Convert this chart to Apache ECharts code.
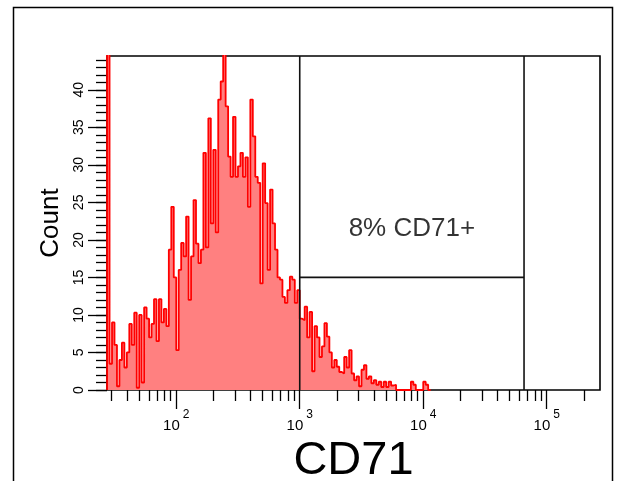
<!DOCTYPE html>
<html><head><meta charset="utf-8">
<script src="https://cdn.jsdelivr.net/npm/echarts@6/dist/echarts.min.js"></script>
<style>html,body{margin:0;padding:0;background:#fff}#c{width:617px;height:481px}</style>
</head><body><div id="c"></div>
<script>
// Histogram binning (log10 channel units)
const binStartLog = 1.44;
const binWidthLog = 0.02;
// Counts per bin (first bin is off-scale)
const counts = [
 60, 3.5, 9, 6, 0.5, 4, 6.3, 3, 5, 8.8,
 6, 10.3, 0.3, 10, 1, 11, 9.5, 7, 8.8, 12.1,
 6.5, 12.1, 9, 10.8, 8.5, 18.7, 24.4, 15, 5.3, 16,
 19.6, 17.8, 23.1, 12, 17.8, 25.3, 19.5, 16.9, 18.7, 31.6,
 19, 36.2, 22.2, 32, 21, 38.7, 41.1, 45, 37.8, 31.1,
 28.4, 36.4, 28.4, 29.8, 31.6, 28.4, 31, 24.4, 38.7, 33.8,
 28.4, 27.6, 14.2, 30.2, 24.9, 16, 26.7, 22.2, 18.7, 15,
 14.7, 12.4, 11.6, 13.3, 15.1, 14.7, 11.6, 13.3, 9.5, 9.3,
 11.1, 7, 10.4, 2.5, 8.5, 7, 4.4, 5.8, 8.9, 7.1,
 5, 3, 4, 3.1, 2.4, 2.2, 4.4, 3, 5.3, 2.2,
 1.3, 1.8, 0.5, 2.7, 3.3, 1.5, 1.8, 0.9, 1.3, 0.7,
 1.1, 0.4, 1.1, 0.4, 1.1, 0.6, 0.7, 0, 0, 0,
 0, 0, 0, 1.1, 0.7, 0, 0, 0, 1.1, 0.7,
 0
];
// Axis ranges
const xMinRaw = 27.5;
const xMaxRaw = 270000;
const yMax = 44.5;
// Tick values
const xMajorTicks = [100, 1000, 10000, 100000];
const xMinorTicks = [30,40,50,60,70,80,90,
  200,300,400,500,600,700,800,900,
  2000,3000,4000,5000,6000,7000,8000,9000,
  20000,30000,40000,50000,60000,70000,80000,90000,200000];
const yMajorTicks = [0,5,10,15,20,25,30,35,40];
const yMinorTicks = [0,1,2,3,4,5,6,7,8,9,10,11,12,13,14,15,16,17,18,19,20,21,22,23,24,25,26,27,28,29,30,31,32,33,34,35,36,37,38,39,40,41,42,43,44];
// Gate
const gateLow = 1000;
const gateHigh = 65500;
const gateLevel = 15;
const gateLabel = '8% CD71+';
const gateLabelLevel = 21.5;
const xTitle = 'CD71';
const yTitle = 'Count';

const F = '"Liberation Sans", Arial, sans-serif';
const L = Math.log10;

const histData = [[binStartLog, 0]];
counts.forEach((c, i) => histData.push([binStartLog + i * binWidthLog, c]));
histData.push([binStartLog + counts.length * binWidthLog, 0]);

const tickStyle = {color: '#000', width: 1.3};
const gateStyle = {color: '#111', width: 1.6};

const chart = echarts.init(document.getElementById('c'), null, {renderer: 'canvas'});
chart.setOption({
  animation: false,
  backgroundColor: '#fff',
  graphic: [{type: 'rect', shape: {x: 13.5, y: 7.5, width: 599, height: 520}, style: {fill: 'none', stroke: '#000', lineWidth: 1.5}, z: -1}],
  grid: {left: 107, top: 56, right: 17, bottom: 91, show: true, borderColor: '#000', borderWidth: 1.6, backgroundColor: 'transparent', containLabel: false, outerBoundsMode: 'none'},
  xAxis: [{
    type: 'value', min: L(xMinRaw), max: L(xMaxRaw), position: 'bottom',
    axisLine: {show: false}, splitLine: {show: false},
    axisTick: {show: true, customValues: xMajorTicks.map(L), length: 19, lineStyle: tickStyle},
    axisLabel: {
      customValues: xMajorTicks.map(L), margin: 19,
      formatter: v => '{b|10}{s|' + Math.round(v) + '}',
      rich: {
        b: {fontSize: 15, fontFamily: F, color: '#000', verticalAlign: 'bottom', lineHeight: 24},
        s: {fontSize: 12, fontFamily: F, color: '#000', verticalAlign: 'top', lineHeight: 12, padding: [0, 0, 0, 3]}
      }
    },
    name: xTitle, nameLocation: 'middle', nameGap: 36,
    nameTextStyle: {fontSize: 47, fontFamily: F, color: '#000'}
  }, {
    type: 'value', min: L(xMinRaw), max: L(xMaxRaw), position: 'bottom',
    axisLine: {show: false}, splitLine: {show: false},
    axisTick: {show: true, customValues: xMinorTicks.map(L), length: 11, lineStyle: tickStyle},
    axisLabel: {show: false}
  }],
  yAxis: [{
    type: 'value', min: 0, max: yMax, position: 'left',
    axisLine: {show: false}, splitLine: {show: false},
    axisTick: {show: true, customValues: yMajorTicks, length: 19, lineStyle: tickStyle},
    axisLabel: {customValues: yMajorTicks, rotate: 90, margin: 21, fontSize: 14, fontFamily: F, color: '#000'},
    name: yTitle, nameLocation: 'middle', nameGap: 39, nameRotate: 90,
    nameTextStyle: {fontSize: 26, fontFamily: F, color: '#000'}
  }, {
    type: 'value', min: 0, max: yMax, position: 'left',
    axisLine: {show: false}, splitLine: {show: false},
    axisTick: {show: true, customValues: yMinorTicks, length: 11, lineStyle: tickStyle},
    axisLabel: {show: false}
  }],
  series: [{
    type: 'line', xAxisIndex: 0, yAxisIndex: 0, data: histData, step: 'end',
    symbol: 'none', clip: true,
    lineStyle: {color: '#ff0000', width: 1.8},
    areaStyle: {color: '#ff8080', opacity: 1},
    z: 2
  }, {
    type: 'line', data: [[L(gateLow), 0], [L(gateLow), yMax]], symbol: 'none', lineStyle: gateStyle, z: 3
  }, {
    type: 'line', data: [[L(gateHigh), 0], [L(gateHigh), yMax]], symbol: 'none', lineStyle: gateStyle, z: 3
  }, {
    type: 'line', data: [[L(gateLow), gateLevel], [L(gateHigh), gateLevel]], symbol: 'none', lineStyle: gateStyle, z: 3
  }, {
    type: 'scatter', symbolSize: 0,
    data: [[(L(gateLow) + L(gateHigh)) / 2, gateLabelLevel]],
    label: {show: true, position: 'inside', formatter: gateLabel, fontSize: 26, fontFamily: F, color: '#000'},
    z: 4
  }]
});
</script>
</body></html>
